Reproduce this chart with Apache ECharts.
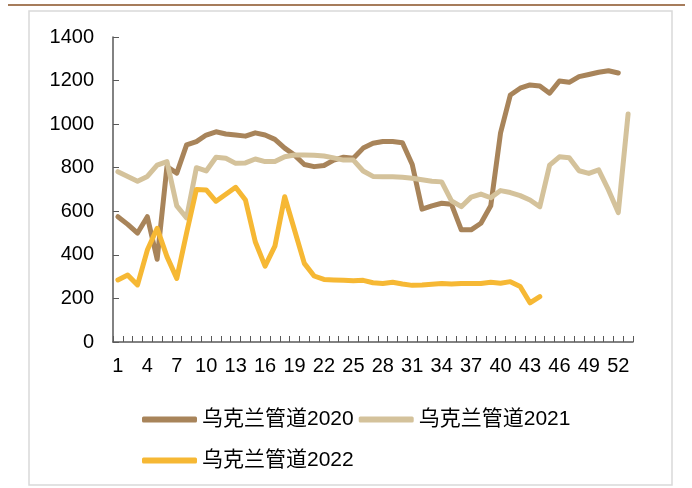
<!DOCTYPE html>
<html>
<head>
<meta charset="utf-8">
<script src="https://cdn.jsdelivr.net/npm/echarts@6/dist/echarts.min.js"></script>
<style>
    html, body {margin: 0; padding: 0; background: #fff;}
    #myChart {width: 692px; height: 488px;}
</style>
</head>
<body>
<div id="myChart"></div>
<script>
// 周次
var weeks = ['1','2','3','4','5','6','7','8','9','10','11','12','13','14','15','16','17','18',
    '19','20','21','22','23','24','25','26','27','28','29','30','31','32','33','34','35','36',
    '37','38','39','40','41','42','43','44','45','46','47','48','49','50','51','52','53'];

var pipe2020 = [575,540,500,575,380,805,775,905,920,950,965,955,950,945,960,950,930,890,
    858,815,805,810,835,848,843,890,912,920,920,915,815,610,625,637,632,515,
    515,545,625,960,1134,1165,1180,1175,1142,1198,1192,1218,1228,1238,1245,1235];

var pipe2021 = [782,760,738,760,812,828,625,570,800,785,848,843,820,822,840,828,828,850,
    858,858,857,854,845,835,835,785,760,758,758,756,752,745,738,735,648,621,
    665,679,662,695,686,672,652,621,812,850,846,786,774,790,698,594,1047];

var pipe2022 = [285,307,262,422,522,392,292,500,700,698,646,678,710,652,460,348,440,667,
    514,361,303,287,285,283,281,283,272,269,274,266,260,262,265,269,266,269,
    268,269,274,270,277,255,180,208];

var names = ['乌克兰管道2020', '乌克兰管道2021', '乌克兰管道2022'];
var colors = ['#A8845A', '#D4C29B', '#F6B834'];

var axisColor = '#595959';
var font = '"Liberation Sans", Arial, sans-serif';
var legendFont = '"Liberation Sans", "Noto Sans CJK SC", sans-serif';

function lineSeries(idx, data) {
    return {
        type: 'line',
        name: names[idx],
        data: data,
        symbol: 'none',
        smooth: false,
        lineStyle: {color: colors[idx], width: 5, cap: 'round', join: 'round'},
        itemStyle: {color: colors[idx]}
    };
}

var legendBase = {
    left: 137,
    icon: 'roundRect',
    itemWidth: 55,
    itemHeight: 6,
    itemGap: 5,
    textStyle: {fontFamily: legendFont, fontSize: 21, color: '#000'}
};

var myChart = echarts.init(document.getElementById('myChart'));
var option = {
    animation: false,
    backgroundColor: '#fff',
    graphic: [
        {type: 'rect', shape: {x: 29, y: 11, width: 643, height: 474},
            style: {fill: 'none', stroke: '#D9D9D9', lineWidth: 1.5}, silent: true},
        {type: 'line', shape: {x1: 8, y1: 5, x2: 685, y2: 5},
            style: {stroke: '#A67C5B', lineWidth: 2}, silent: true}
    ],
    grid: {left: 113, right: 59, top: 37, bottom: 146, containLabel: false},
    legend: [
        Object.assign({}, legendBase, {top: 404, data: [names[0], names[1]]}),
        Object.assign({}, legendBase, {top: 445, data: [names[2]]})
    ],
    xAxis: {
        type: 'category',
        data: weeks,
        boundaryGap: true,
        axisLine: {lineStyle: {color: axisColor, width: 1.5}},
        axisTick: {show: true, inside: true, length: 6, interval: 0, lineStyle: {color: axisColor}},
        axisLabel: {interval: 2, margin: 14, fontFamily: font, fontSize: 20, color: '#000'},
        splitLine: {show: false}
    },
    yAxis: {
        type: 'value',
        min: 0,
        max: 1400,
        interval: 200,
        axisLine: {show: true, lineStyle: {color: axisColor, width: 1.5}},
        axisTick: {show: true, inside: true, length: 6, lineStyle: {color: axisColor}},
        axisLabel: {
            margin: 19, fontFamily: font, fontSize: 20, color: '#000',
            formatter: function (value) {
                return String(value);
            }
        },
        splitLine: {show: false}
    },
    series: [
        lineSeries(0, pipe2020),
        lineSeries(1, pipe2021),
        lineSeries(2, pipe2022)
    ]
};
myChart.setOption(option);
</script>
</body>
</html>
